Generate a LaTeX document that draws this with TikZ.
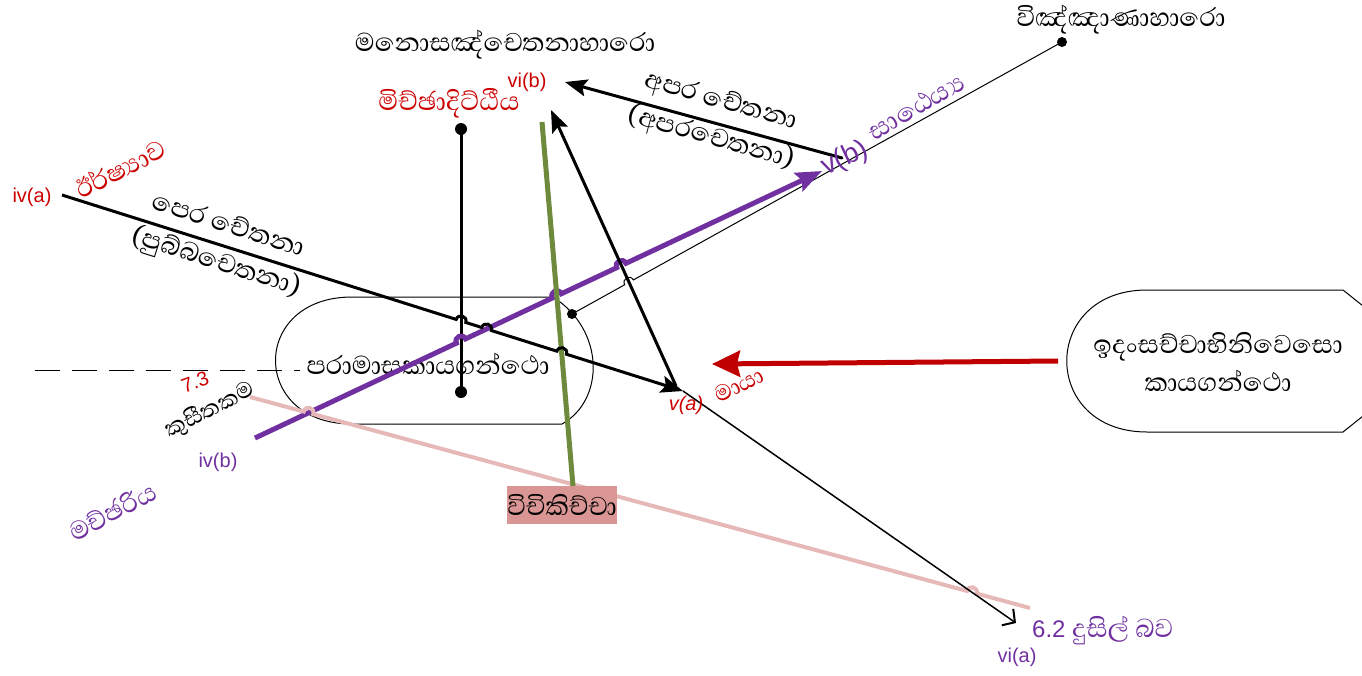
\documentclass[tikz,border=0pt]{standalone}
\usepackage{fontspec}
\setmainfont{Liberation Sans}
\newfontfamily\sinhfont[Script=Sinhala]{Abhaya Libre}
\usetikzlibrary{arrows.meta,calc,intersections}
\definecolor{txtred}{HTML}{CC0000}
\definecolor{arrred}{HTML}{C00000}
\definecolor{purp}{HTML}{7030A0}
\definecolor{olivel}{HTML}{6E8B3D}
\definecolor{pinkl}{HTML}{E6B9B8}
\definecolor{boxpink}{HTML}{D99694}
\tikzset{
  si/.style={font=\sinhfont\fontsize{33}{38}\selectfont, inner sep=0pt},
  sismall/.style={font=\sinhfont\fontsize{29}{34}\selectfont, inner sep=0pt},
  lab/.style={font=\fontsize{20}{24}\selectfont, inner sep=0pt},
  dotnode/.style={circle, fill=black, inner sep=0pt, minimum size=12pt},
  smalldot/.style={circle, fill=black, inner sep=0pt, minimum size=10pt},
  blackarrow/.style={line width=3pt, -{Stealth[length=22pt,width=17pt,inset=4pt]}},
  thinline/.style={line width=1pt},
  shapeline/.style={line width=1pt},
}
% jump helper: #1 name, #2 start point, #3 crossing, #4 end point
\newcommand\mkjump[4]{%
  \coordinate (#1a) at ($(#3)!5pt!(#2)$);
  \coordinate (#1b) at ($(#3)!5pt!(#4)$);
  \coordinate (#1c) at ($(#1a)!6.7pt!90:(#3)$);
  \coordinate (#1d) at ($(#1b)!6.7pt!-90:(#3)$);
}
\begin{document}
\begin{tikzpicture}[x=1pt,y=-1pt]
\useasboundingbox (0,0) rectangle (1362,675);
\clip (0,0) rectangle (1362,675);

% ---------- coordinates ----------
\coordinate (iva) at (62,195);
\coordinate (va) at (683,391);
\coordinate (vaS) at (676,386);
\coordinate (vibT) at (551,110);
\coordinate (apS) at (842,158);
\coordinate (vibA) at (565,82);
\coordinate (via) at (1016,623);
\coordinate (ivbS) at (255,438);
\coordinate (vbT) at (822,171);
\coordinate (gTop) at (542,122);
\coordinate (gBot) at (573,486);
\coordinate (pinkS) at (250,397);
\coordinate (pinkE) at (1030,608);
\coordinate (idaW) at (1058,361);
\coordinate (mayaT) at (712,364);
\coordinate (dashS) at (35,370);
\coordinate (dashE) at (300,370);

% dashed horizontal line
\draw[line width=1pt, dash pattern=on 25pt off 12pt] (dashS) -- (dashE);

% left node shape
\draw[shapeline] (352,297) -- (553,297) .. controls (605,330) and (605,400) .. (562,424) -- (352,424)
   .. controls (250,424) and (250,297) .. (352,297) -- cycle;
\node[si] (para) at (428,364) {පරාමාසකායගන්ථො};

% right node shape
\draw[shapeline] (1147,290) -- (1343,290) -- (1432,361) -- (1343,432) -- (1147,432)
   .. controls (1040,432) and (1040,290) .. (1147,290) -- cycle;
\node[si, align=center] (ida) at (1218,362) {ඉදංසච්චාභිනිවෙසො\\කායගන්ථො};

% dots
\node[smalldot] (dA) at (572,314) {};
\node[smalldot] (dB) at (1062,42) {};
\node[dotnode] (mtop) at (461,129) {};
\node[dotnode] (mbot) at (461,392) {};

% ---------- intersections ----------
\path[name path=pl1] (iva) -- (va);
\path[name path=pvert] (mtop.center) -- (mbot.center);
\path[name path=ppurp] (ivbS) -- (vbT);
\path[name path=pgreen] (gTop) -- (gBot);
\path[name path=parr2] (vaS) -- (vibT);
\path[name path=pthin] (dA.center) -- (dB.center);
\path[name path=ppink] (pinkS) -- (pinkE);
\path[name path=pvia] (va) -- (via);
\path[name intersections={of=pl1 and pvert, by=XA}];
\path[name intersections={of=pl1 and ppurp, by=XB}];
\path[name intersections={of=pl1 and pgreen, by=XC}];
\path[name intersections={of=ppurp and pvert, by=XD}];
\path[name intersections={of=ppurp and pgreen, by=XE}];
\path[name intersections={of=ppurp and parr2, by=XF}];
\path[name intersections={of=pthin and parr2, by=XG}];
\path[name intersections={of=ppink and ppurp, by=XH}];
\path[name intersections={of=ppink and pvia, by=XI}];
\mkjump{JA}{iva}{XA}{va}
\mkjump{JB}{iva}{XB}{va}
\mkjump{JC}{iva}{XC}{va}
\mkjump{JD}{ivbS}{XD}{vbT}
\mkjump{JE}{ivbS}{XE}{vbT}
\mkjump{JF}{ivbS}{XF}{vbT}
\mkjump{JG}{dA.center}{XG}{dB.center}
\mkjump{JH}{pinkS}{XH}{pinkE}
\mkjump{JI}{pinkS}{XI}{pinkE}

% texts top
\node[si] (mano) at (505,45) {මනොසඤ්චෙතනාහාරො};
\node[si] (vinn) at (1121,20) {විඤ්ඤාණාහාරො};
\node[si, text=txtred] (mich) at (449,103) {මිච්ඡාදිට්ඨීය};
\node[lab, text=txtred] (vibl) at (527,82) {vi(b)};

% thin line between dots
\draw[thinline] (dA.center) -- (JGa) .. controls (JGc) and (JGd) .. (JGb) -- (dB.center);

% vertical black line
\draw[line width=3pt] (mtop.center) -- (mbot.center);

% purple arrow
\draw[purp, line width=5pt, -{Stealth[length=26pt,width=20pt,inset=4pt]}] (ivbS)
   -- (JDa) .. controls (JDc) and (JDd) .. (JDb)
   -- (JEa) .. controls (JEc) and (JEd) .. (JEb)
   -- (JFa) .. controls (JFc) and (JFd) .. (JFb) -- (vbT);

% pink line
\draw[pinkl, line width=4pt] (pinkS) -- (JHa) .. controls (JHc) and (JHd) .. (JHb)
   -- (JIa) .. controls (JIc) and (JId) .. (JIb) -- (pinkE);

% green line and box
\node[si, fill=boxpink, minimum width=102pt, minimum height=38pt] (vici) at (562,505) {විචිකිච්චා};
\draw[olivel, line width=5pt] (gTop) -- (gBot);

% black arrows
\draw[blackarrow] (iva) -- (JAa) .. controls (JAc) and (JAd) .. (JAb)
   -- (JBa) .. controls (JBc) and (JBd) .. (JBb)
   -- (JCa) .. controls (JCc) and (JCd) .. (JCb) -- (va);
\draw[blackarrow] (vaS) -- (vibT);
\draw[blackarrow, line cap=round] (apS) -- (vibA);
\draw[line width=1.5pt, -{Straight Barb[length=9pt,width=20pt,line width=2pt]}] (va) -- (via);

% red arrow
\draw[arrred, line width=5pt, -{Stealth[length=28pt,width=26pt,inset=3pt]}] (idaW) -- (mayaT);

% rotated labels
\node[si, align=center, rotate=-17.5] (pera) at (222,245) {පෙර චේතනා\\(පුබ්බචෙතනා)};
\node[si, align=center, rotate=-15.6] (apara) at (716,120) {අපර චේතනා\\(අපරචෙතනා)};
\node[si, text=txtred, rotate=27] (irsh) at (120,168) {ඊර්ෂ්‍යාව};
\node[lab, text=txtred] (ival) at (32,197) {iv(a)};
\node[lab, text=txtred, font=\itshape\fontsize{20}{24}\selectfont] (val) at (686,405) {v(a)};
\node[sismall, text=txtred, rotate=27] (maya) at (739,385) {මායා};
\node[lab, text=txtred, rotate=20] (sevth) at (195,382) {7.3};
\node[sismall, rotate=27] (kusi) at (210,410) {කුසීතකම};
\node[lab, text=purp] (ivbl) at (218,462) {iv(b)};
\node[si, text=purp, rotate=28] (macc) at (112,511) {මච්ඡරිය};
\node[lab, text=purp, font=\fontsize{28}{32}\selectfont, rotate=25] (vbl) at (845,159) {v(b)};
\node[si, text=purp, rotate=30] (sath) at (916,106) {සාඨෙය්‍ය};
\node[inner sep=0pt, text=purp, anchor=west] (dus) at (1032,630) {\fontsize{24}{28}\selectfont 6.2 \sinhfont\fontsize{33}{36}\selectfont දුසිල් බව};
\node[lab, text=purp] (vial) at (1017,657) {vi(a)};
\end{tikzpicture}
\end{document}
